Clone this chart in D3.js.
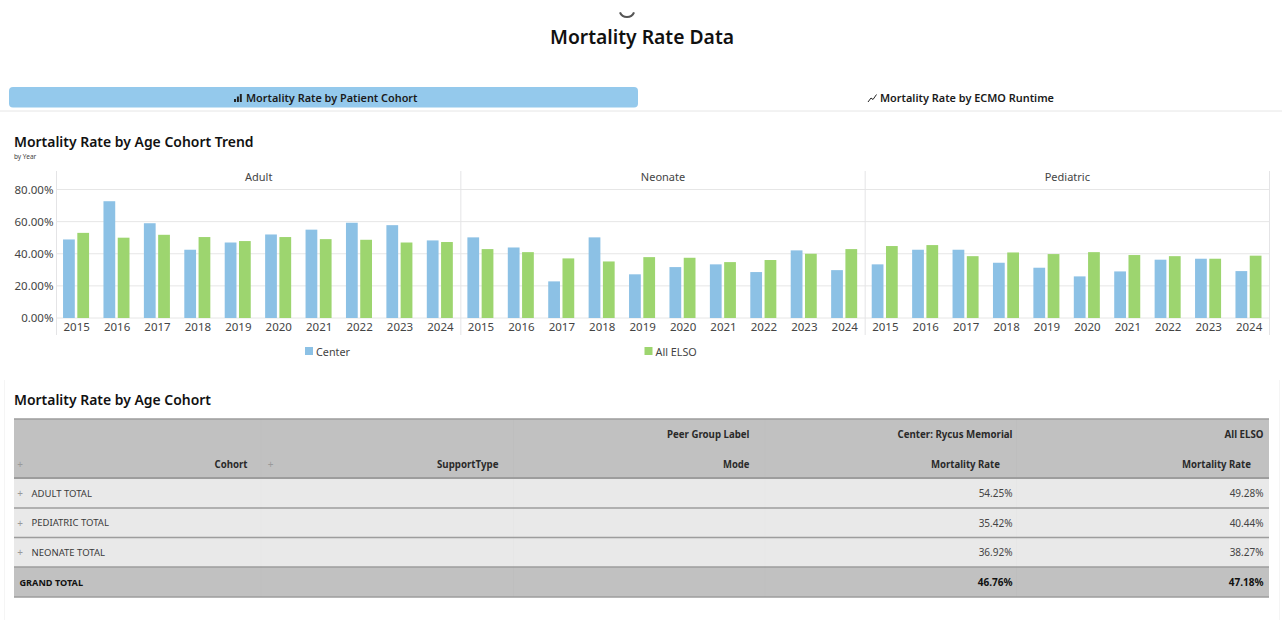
<!DOCTYPE html>
<html><head><meta charset="utf-8">
<script src="https://cdn.jsdelivr.net/npm/d3@7"></script>
<style>
html,body{margin:0;padding:0;background:#fff;overflow:hidden}
text{font-family:"Noto Sans",sans-serif}
</style></head><body>
<svg id="c" width="1282" height="620"></svg>
<script>
const years=[2015,2016,2017,2018,2019,2020,2021,2022,2023,2024];
const cohorts=["Adult","Neonate","Pediatric"];
const seriesNames=["Center","All ELSO"];
const seriesColors=["#8cc1e5","#9dd56f"];
const yTicks=[0,20,40,60,80];
const adultCenter=[48.9,72.7,59,42.5,47,52,55,59.3,57.8,48.3];
const adultElso=[53,50,51.8,50.4,47.9,50.4,49.1,48.7,47,47.3];
const neonateCenter=[50.2,43.9,22.8,50.2,27.2,31.7,33.4,28.6,42.1,29.8];
const neonateElso=[42.9,41,37.1,35.2,37.9,37.5,34.8,36.1,40,42.9];
const pediatricCenter=[33.4,42.5,42.5,34.4,31.3,25.9,29,36.3,36.9,29.2];
const pediatricElso=[44.8,45.4,38.5,40.8,39.8,41,39.2,38.5,36.9,38.8];
const tableRows=["ADULT TOTAL","PEDIATRIC TOTAL","NEONATE TOTAL"];
const tableCenter=["54.25%","35.42%","36.92%"];
const tableElso=["49.28%","40.44%","38.27%"];
const grandTotal=["GRAND TOTAL","46.76%","47.18%"];

const values={Adult:[adultCenter,adultElso],Neonate:[neonateCenter,neonateElso],Pediatric:[pediatricCenter,pediatricElso]};
const svg=d3.select("#c");
const ink="#1d1d1f";
function T(x,y,s,size,weight,fill,anchor){
  return svg.append("text").attr("x",x).attr("y",y).attr("font-size",size).attr("font-weight",weight||400)
    .attr("fill",fill||ink).attr("text-anchor",anchor||"start").attr("dominant-baseline","central").text(s);
}
function fit(sel,w){return sel.attr("textLength",w).attr("lengthAdjust","spacingAndGlyphs");}
// spinner fragment
svg.append("path").attr("d",d3.arc()({innerRadius:6.5,outerRadius:8.6,startAngle:Math.PI*0.62,endAngle:Math.PI*1.38}))
  .attr("transform","translate(627,9.5)").attr("fill","#555");
fit(T(550,36,"Mortality Rate Data",20,600,"#111"),184);

// tabs
svg.append("rect").attr("x",9).attr("y",87).attr("width",629).attr("height",20.5).attr("rx",4).attr("fill","#94c9ec");
svg.append("line").attr("x1",0).attr("x2",1282).attr("y1",111).attr("y2",111).attr("stroke","#e6e6e6");
fit(T(246,97,"Mortality Rate by Patient Cohort",11,600,"#1a1a1a"),171.5);
fit(T(880,97,"Mortality Rate by ECMO Runtime",11,600,"#1a1a1a"),174);
svg.append("g").selectAll("rect").data([3,5.5,8]).join("rect")
  .attr("x",(d,i)=>234+i*2.9).attr("width",2).attr("y",d=>102-d).attr("height",d=>d).attr("fill","#222");
svg.append("path").attr("d","M868 102 L871 98 L873 99.5 L876.5 94.5").attr("fill","none").attr("stroke","#222").attr("stroke-width",1);

// chart
fit(T(14,141,"Mortality Rate by Age Cohort Trend",15,600,"#111"),239.5);
T(14,156,"by Year",6.5,400,"#444");
const panelX=d3.scaleBand().domain(cohorts).range([56.5,1269.5]);
const y=d3.scaleLinear().domain([0,80]).range([318,189.5]);
const gridG=svg.append("g");
gridG.selectAll("line").data(yTicks).join("line").attr("x1",56.5).attr("x2",1269.5)
  .attr("y1",d=>y(d)).attr("y2",d=>y(d)).attr("stroke","#e6e6e6").attr("stroke-width",1);
const yAxis=svg.append("g").attr("transform","translate(56.5,0)")
  .call(d3.axisLeft(y).tickValues(yTicks).tickSize(0).tickPadding(3).tickFormat(d=>d3.format(".2f")(d)+"%"));
yAxis.select(".domain").remove();
yAxis.selectAll("text").attr("font-size",11.5).attr("fill","#444").style("font-family",'"Noto Sans",sans-serif');

const dividers=[...cohorts.map(c=>panelX(c)),1269.5];
svg.append("g").selectAll("line").data(dividers).join("line")
  .attr("x1",d=>d).attr("x2",d=>d).attr("y1",171).attr("y2",335).attr("stroke","#e4e4e6");

const inner=d3.scaleBand().domain(years).range([0,panelX.bandwidth()]).paddingInner(0.356).paddingOuter(0.18).align(0.45);
const sub=d3.scaleBand().domain(seriesNames).range([0,inner.bandwidth()]).paddingInner(0.176);
cohorts.forEach(c=>{
  const g=svg.append("g").attr("transform",`translate(${panelX(c)},0)`);
  T(panelX(c)+panelX.bandwidth()/2,176.5,c,11,400,"#444","middle");
  seriesNames.forEach((s,si)=>{
    g.append("g").selectAll("rect").data(values[c][si]).join("rect")
      .attr("x",(d,i)=>inner(years[i])+sub(s)).attr("width",sub.bandwidth())
      .attr("y",d=>y(d)).attr("height",d=>y(0)-y(d)).attr("fill",seriesColors[si]);
  });
  const ax=g.append("g").attr("transform","translate(0.6,318)")
    .call(d3.axisBottom(inner).tickSize(0).tickPadding(4.5));
  ax.select(".domain").remove();
  ax.selectAll("text").attr("font-size",11.5).attr("fill","#444").style("font-family",'"Noto Sans",sans-serif');
});

// legend
const legendX=[305,644.5];
seriesNames.forEach((s,i)=>{
  svg.append("rect").attr("x",legendX[i]).attr("y",347).attr("width",8).attr("height",8).attr("fill",seriesColors[i]);
  T(legendX[i]+11,351,s,10.8,400,"#444");
});

// card
svg.append("path").attr("d","M4.5 380 V620 M1279.5 380 V620").attr("stroke","#f5f5f5").attr("fill","none");
fit(T(14,399,"Mortality Rate by Age Cohort",15,600,"#111"),197);

// table
const colEdges=[14,261,513.5,765,1016.5,1269];
const rowEdges=[419,478,508,537.5,567,597];
const bands=[["#c1c1c1"],["#e9e9e9"],["#e9e9e9"],["#e9e9e9"],["#c1c1c1"]];
svg.append("g").selectAll("rect").data(bands).join("rect")
  .attr("x",colEdges[0]).attr("width",colEdges[5]-colEdges[0])
  .attr("y",(d,i)=>rowEdges[i]).attr("height",(d,i)=>rowEdges[i+1]-rowEdges[i]).attr("fill",d=>d[0]);
svg.append("g").selectAll("line").data(colEdges.slice(1,5)).join("line")
  .attr("x1",d=>d).attr("x2",d=>d).attr("y1",rowEdges[0]).attr("y2",rowEdges[5]).attr("stroke","#000").attr("stroke-opacity",0.012);
svg.append("g").selectAll("line").data(rowEdges).join("line")
  .attr("x1",colEdges[0]).attr("x2",colEdges[5]).attr("y1",d=>d).attr("y2",d=>d)
  .attr("stroke","#9d9d9d").attr("stroke-width",(d,i)=>i==1?2:1.3);

const R1=749.5,R2=1012.5,R3=1263.5;
const H=(x,yy,s,w)=>fit(T(x-w,yy,s,10,700,"#2a2a2a"),w);
H(R1,433.5,"Peer Group Label",82.5);
H(R2,433.5,"Center: Rycus Memorial",115);
H(R3,433.5,"All ELSO",39);
H(247.5,463.5,"Cohort",33);
H(498.5,463.5,"SupportType",61.5);
H(R1,463.5,"Mode",26.5);
H(1000,463.5,"Mortality Rate",69);
H(1251,463.5,"Mortality Rate",69);
T(20,463.5,"+",10,400,"#9a9a9a","middle");
T(270.5,463.5,"+",10,400,"#9a9a9a","middle");
tableRows.forEach((r,i)=>{
  const ym=(rowEdges[i+1]+rowEdges[i+2])/2;
  T(20,ym,"+",10,400,"#9a9a9a","middle");
  T(31.5,ym,r,9.5,400,"#3a3a3a");
  T(R2,ym,tableCenter[i],10,400,"#444","end");
  T(R3,ym,tableElso[i],10,400,"#444","end");
});
fit(T(19.5,582,grandTotal[0],9.5,700,"#111"),63.5);
T(R2,582,grandTotal[1],10,700,"#111","end");
T(R3,582,grandTotal[2],10,700,"#111","end");
</script>
</body></html>
